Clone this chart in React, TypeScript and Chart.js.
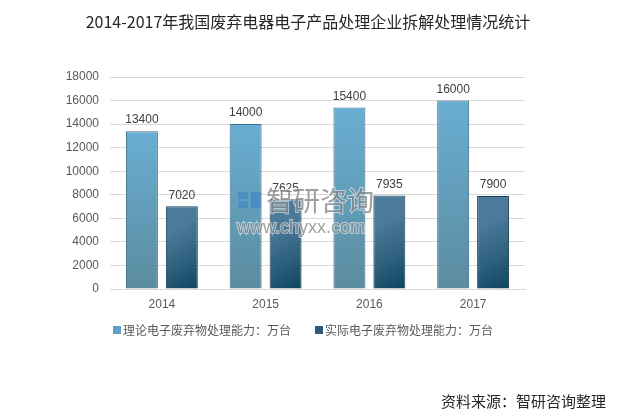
import React, { useEffect, useRef } from 'react'
import { Chart, registerables } from 'chart.js'

Chart.register(...registerables)

const years = ['2014', '2015', '2016', '2017']
const theoretical = [13400, 14000, 15400, 16000]
const actual = [7020, 7625, 7935, 7900]
const yTicks = [0, 2000, 4000, 6000, 8000, 10000, 12000, 14000, 16000, 18000]

const seriesNames = ['理论电子废弃物处理能力：万台', '实际电子废弃物处理能力：万台']
const titleText = '2014-2017年我国废弃电器电子产品处理企业拆解处理情况统计'
const sourceText = '资料来源：智研咨询整理'

const FONT = '"Liberation Sans", "Noto Sans CJK SC", sans-serif'
const CJK = '"Noto Sans CJK SC", sans-serif'

// gradient laid over one bar, worked out from the scales
function barFill(ctx: any, stops: string[], diagonal: boolean) {
  const chart = ctx.chart as Chart
  const xs = chart.scales.x
  const ys = chart.scales.y
  if (!xs || !ys || !chart.chartArea) return stops[0]
  const value = ctx.raw as number
  const top = ys.getPixelForValue(value)
  const bottom = ys.getPixelForValue(0)
  const offset = ctx.datasetIndex === 0 ? -20 : 20
  const cx = xs.getPixelForValue(ctx.dataIndex) + offset
  const g = diagonal
    ? chart.ctx.createLinearGradient(cx - 16, top + (bottom - top) * 0.35, cx + 16, bottom)
    : chart.ctx.createLinearGradient(0, top, 0, bottom)
  stops.forEach((c, i) => g.addColorStop(i / (stops.length - 1), c))
  return g
}

const extras = {
  id: 'extras',
  afterDatasetsDraw(chart: Chart) {
    const ctx = chart.ctx
    ctx.save()
    ctx.font = `12px ${FONT}`
    ctx.fillStyle = '#404040'
    ctx.textAlign = 'center'
    ctx.textBaseline = 'bottom'
    chart.data.datasets.forEach((ds, di) => {
      chart.getDatasetMeta(di).data.forEach((bar: any, i) => {
        ctx.fillText(String(ds.data[i]), bar.x, bar.y - 5)
      })
    })

    // watermark
    ctx.globalAlpha = 0.55
    ctx.fillStyle = '#3a80c8'
    ctx.fillRect(238, 192, 10, 7)
    ctx.fillRect(238, 201, 10, 7)
    ctx.fillRect(251, 192, 10, 16)
    ctx.textAlign = 'left'
    ctx.textBaseline = 'middle'
    ctx.lineWidth = 2
    ctx.strokeStyle = '#ffffff'
    ctx.fillStyle = '#505050'
    ctx.font = `27px ${CJK}`
    ctx.strokeText('智研咨询', 266, 201)
    ctx.fillText('智研咨询', 266, 201)
    ctx.font = `18px ${FONT}`
    ctx.strokeText('www.chyxx.com', 237, 228)
    ctx.fillText('www.chyxx.com', 237, 228)
    ctx.restore()
  },
  afterDraw(chart: Chart) {
    const ctx = chart.ctx
    ctx.save()
    ctx.textBaseline = 'middle'
    ctx.fillStyle = '#262626'
    ctx.font = `16px ${CJK}`
    ctx.textAlign = 'center'
    ctx.fillText(titleText, 308, 22)

    ctx.font = `12px ${CJK}`
    ctx.textAlign = 'left'
    const legendX = [113, 315]
    const swatch = ['#5fa3c8', '#2e5a78']
    seriesNames.forEach((name, i) => {
      ctx.fillStyle = swatch[i]
      ctx.fillRect(legendX[i], 326, 8, 8)
      ctx.fillStyle = '#595959'
      ctx.fillText(name, legendX[i] + 10, 330)
    })

    ctx.font = `15px ${CJK}`
    ctx.fillStyle = '#262626'
    ctx.textAlign = 'right'
    ctx.fillText(sourceText, 606, 401)
    ctx.restore()
  },
}

export default function App() {
  const canvasRef = useRef<HTMLCanvasElement>(null)
  const chartRef = useRef<Chart | null>(null)

  useEffect(() => {
    if (!canvasRef.current) return
    chartRef.current?.destroy()

    chartRef.current = new Chart(canvasRef.current, {
      type: 'bar',
      data: {
        labels: years,
        datasets: [
          {
            label: seriesNames[0],
            data: theoretical,
            backgroundColor: ctx => barFill(ctx, ['#69aed3', '#5b8c9f'], false),
            borderColor: '#3e6f8a',
            borderWidth: 1,
          },
          {
            label: seriesNames[1],
            data: actual,
            backgroundColor: ctx => barFill(ctx, ['#4b7a9a', '#2f627f', '#0c4560'], true),
            borderColor: '#1e3f55',
            borderWidth: 1,
          },
        ],
      },
      options: {
        animation: false,
        responsive: false,
        maintainAspectRatio: false,
        categoryPercentage: 0.77,
        barPercentage: 0.8,
        layout: { padding: { left: 50, right: 96, top: 77, bottom: 99 } },
        plugins: {
          legend: { display: false },
          tooltip: { enabled: false },
        },
        scales: {
          x: {
            grid: { display: false, drawTicks: false },
            border: { color: '#d9d9d9' },
            ticks: { font: { size: 12, family: FONT }, color: '#595959', padding: 8 },
            afterFit: s => { s.height = 30 },
          },
          y: {
            min: 0,
            max: 18000,
            afterBuildTicks: s => { s.ticks = yTicks.map(v => ({ value: v })) },
            grid: { color: '#d9d9d9', drawTicks: false },
            border: { display: false },
            ticks: {
              font: { size: 12, family: FONT },
              color: '#595959',
              padding: 11,
              callback: v => String(v),
            },
            afterFit: s => { s.width = 60 },
          },
        },
      },
      plugins: [extras],
    })

    return () => {
      chartRef.current?.destroy()
      chartRef.current = null
    }
  }, [])

  return (
    <div style={{ position: 'fixed', left: 0, top: 0, width: 621, height: 418, background: '#fff' }}>
      <canvas ref={canvasRef} width={621} height={418} style={{ width: 621, height: 418 }} />
    </div>
  )
}
